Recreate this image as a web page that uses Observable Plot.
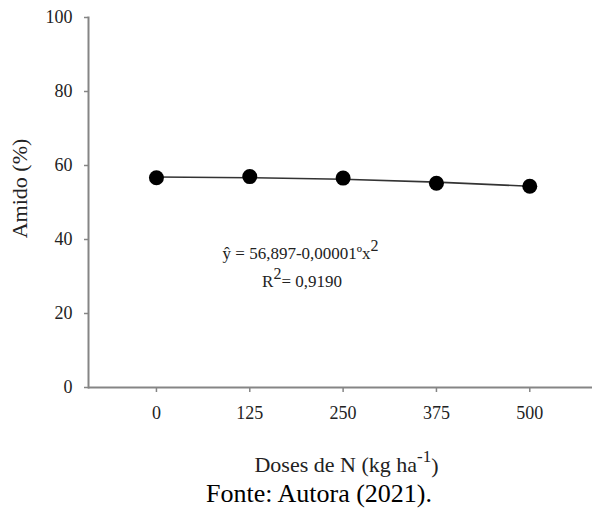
<!DOCTYPE html>
<html>
<head>
<meta charset="utf-8">
<script src="https://cdn.jsdelivr.net/npm/d3@7"></script>
<script src="https://cdn.jsdelivr.net/npm/@observablehq/plot@0.6"></script>
<style>
  html, body { margin: 0; padding: 0; background: #fff; }
  #wrap { width: 592px; }
  #caption { font-family: "Liberation Serif", "Times New Roman", Times, serif; font-size: 26px; color: #000; text-align: left; padding-left: 206px; line-height: 32px; height: 32px; }
</style>
</head>
<body>
<div id="wrap">
  <div id="chart"></div>
  <div id="caption">Fonte: Autora (2021).</div>
</div>
<script>
// Data
const doses = [0, 125, 250, 375, 500];
const amido = [56.7, 57.0, 56.6, 55.2, 54.4];
const ajuste = [56.9, 56.7, 56.3, 55.5, 54.4];
const yTicks = [0, 20, 40, 60, 80, 100];
const eqLine1 = "ŷ = 56,897-0,00001ºx2";
const eqLine2 = "R2= 0,9190";
const xTitle = "Doses de N (kg ha-1)";
const yTitle = "Amido (%)";

const pts = doses.map((d, i) => ({dose: d, amido: amido[i], ajuste: ajuste[i]}));
const eq = [{x: 193, y: 34.6, t: eqLine1}, {x: 195, y: 27.2, t: eqLine2}];

const serif = "'Liberation Serif', 'Times New Roman', Times, serif";
const axisColor = "#858585";
const chart = Plot.plot({
  width: 592,
  height: 478,
  marginLeft: 88,
  marginRight: 0,
  marginTop: 17,
  marginBottom: 91,
  style: {fontFamily: serif, fontSize: "18px", color: "#222", background: "#fff"},
  x: {domain: [-91, 584]},
  y: {domain: [0, 100]},
  marks: [
    Plot.axisY({ticks: yTicks, tickSize: 4, tickPadding: 12, stroke: axisColor, strokeWidth: 1.5,
      label: yTitle, labelAnchor: "center", labelArrow: "none", labelOffset: 77, fontSize: 18, fontFamily: serif}),
    Plot.axisX({ticks: doses, tickSize: 5, tickPadding: 14, stroke: axisColor, strokeWidth: 1.5,
      tickFormat: d => String(d), label: xTitle, labelAnchor: "center", labelArrow: "none", labelOffset: 84, fontSize: 18, fontFamily: serif}),
    Plot.frame({anchor: "left", stroke: axisColor, strokeWidth: 2}),
    Plot.ruleY([0], {stroke: axisColor, strokeWidth: 2}),
    Plot.line(pts, {x: "dose", y: "ajuste", stroke: "#333", strokeWidth: 1.6}),
    Plot.dot(pts, {x: "dose", y: "amido", r: 7.5, fill: "#000", stroke: "none"}),
    Plot.text(eq, {x: "x", y: "y", text: "t", fontSize: 17, fontFamily: serif, fill: "#222", textAnchor: "middle", lineAnchor: "bottom"})
  ]
});
document.getElementById("chart").appendChild(chart);

// rich text: superscripts
const svg = d3.select(chart);
svg.selectAll("text").each(function () {
  const el = d3.select(this);
  const t = this.textContent.replace(/[\s→↑]+$/, "");
  if (t.startsWith("Doses de N")) {
    el.text(null);
    el.attr("font-size", "22px").attr("dx", 6);
    el.append("tspan").text("Doses de N (kg ha");
    el.append("tspan").attr("dy", "-0.55em").attr("font-size", "17px").text("-1");
    el.append("tspan").attr("dy", "0.5em").text(")");
  } else if (t.startsWith("Amido")) {
    el.text(yTitle).attr("font-size", "22px").attr("dx", 14);
  } else if (t === eqLine1) {
    el.text(null);
    el.append("tspan").text("ŷ = 56,897-0,00001ºx");
    el.append("tspan").attr("dy", "-8").attr("font-size", "16px").text("2");
  } else if (t === eqLine2) {
    el.text(null);
    el.append("tspan").text("R");
    el.append("tspan").attr("dy", "-8").attr("font-size", "16px").text("2");
    el.append("tspan").attr("dy", "8").text("= 0,9190");
  }
});
</script>
</body>
</html>
